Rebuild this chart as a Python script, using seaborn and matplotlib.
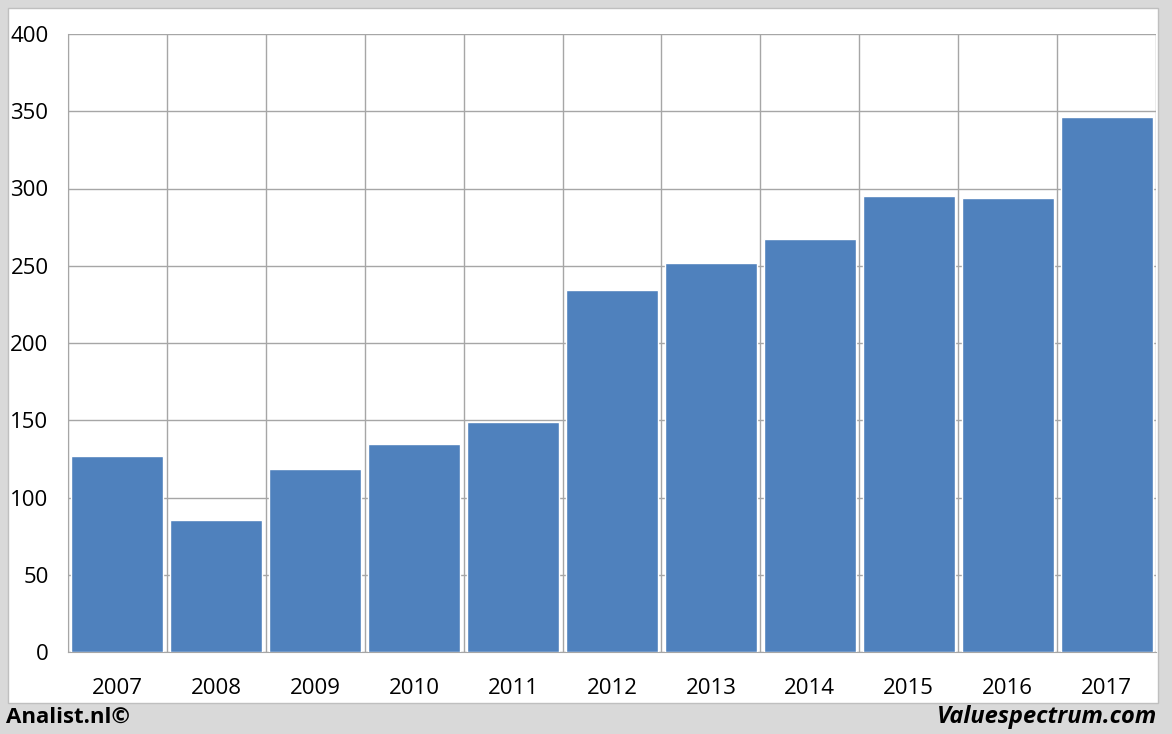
import seaborn as sns
import pandas as pd
import matplotlib.pyplot as plt
from matplotlib.patches import Rectangle

years = ["2007", "2008", "2009", "2010", "2011", "2012", "2013", "2014", "2015", "2016", "2017"]
values = [127, 85.5, 118.5, 134.5, 149, 234, 252, 267.5, 295, 294, 346]
yticks = [0, 50, 100, 150, 200, 250, 300, 350, 400]

df = pd.DataFrame({"Year": years, "Value": values})

sns.set_style("white")
plt.rcParams['font.family'] = ['Open Sans', 'DejaVu Sans']
plt.rcParams['text.color'] = 'black'
plt.rcParams['xtick.color'] = 'black'
plt.rcParams['ytick.color'] = 'black'

fig = plt.figure(figsize=(11.72, 7.34), dpi=100)
fig.patch.set_facecolor("#d9d9d9")
# white panel inside the grey frame
fig.patches.append(Rectangle((8 / 1172, 31 / 734), 1150 / 1172, 695 / 734,
                             transform=fig.transFigure, facecolor="white",
                             edgecolor="#bfbfbf", lw=1, zorder=-5))

ax = fig.add_axes([68 / 1172, 82 / 734, 1088 / 1172, 618 / 734])
ax.set_facecolor("none")
sns.barplot(data=df, x="Year", y="Value", color="#4f81bd", saturation=1,
            width=0.93, ax=ax, zorder=3)

ax.set_xlim(-0.5, len(years) - 0.5)
ax.set_ylim(0, 400)
ax.set_yticks(yticks)
ax.set_xlabel("")
ax.set_ylabel("")

# gridlines at category boundaries
ax.set_xticks([i - 0.5 for i in range(len(years) + 1)], minor=True)
ax.grid(axis="x", which="minor", color="#a6a6a6", lw=1, zorder=1)
ax.grid(axis="y", which="major", color="#a6a6a6", lw=1, zorder=1)
ax.tick_params(axis="x", which="major", length=0, pad=19, labelsize=16)
ax.tick_params(axis="x", which="minor", length=8, color="#a6a6a6", width=1)
ax.tick_params(axis="y", length=8, color="#a6a6a6", labelcolor="black",
               width=1, pad=6, labelsize=16)

for s in ["top", "right"]:
    ax.spines[s].set_visible(False)
for s in ["left", "bottom"]:
    ax.spines[s].set_color("#a6a6a6")

fig.text(6 / 1172, 17 / 734, "Analist.nl©", fontsize=16, fontweight="bold",
         ha="left", va="center")
fig.text(1157 / 1172, 17 / 734, "Valuespectrum.com", fontsize=17, fontweight="bold",
         style="italic", ha="right", va="center")

plt.savefig("out.png", dpi=100, facecolor=fig.get_facecolor())
